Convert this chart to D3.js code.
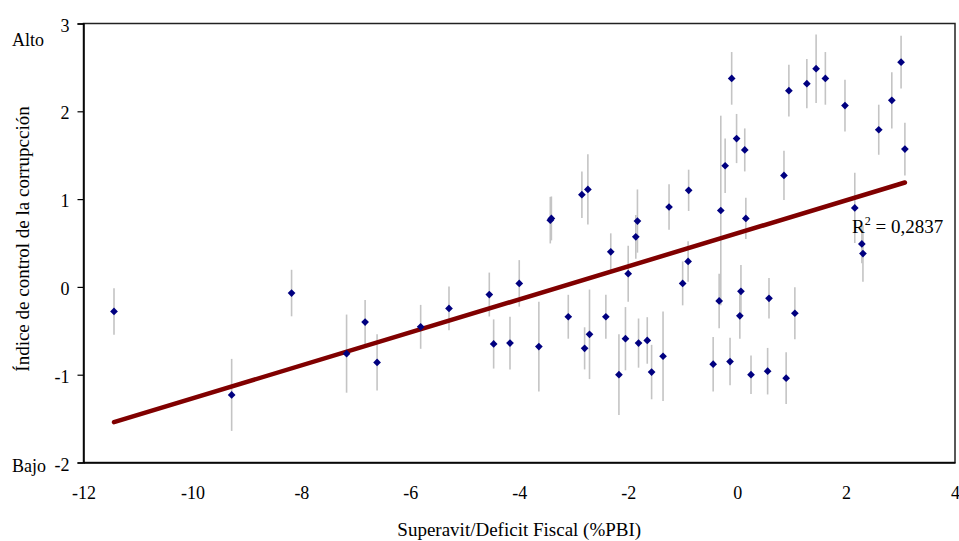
<!DOCTYPE html>
<html>
<head>
<meta charset="utf-8">
<script src="https://cdn.jsdelivr.net/npm/d3@7"></script>
<style>
  body { margin: 0; background: #fff; }
  text { font-family: "Liberation Serif", "Times New Roman", serif; fill: #000; }
</style>
</head>
<body>
<div id="chart"></div>
<script>
// fiscal balance (%PBI) per country
var xValues = [-11.44, -9.28, -8.18, -7.17, -6.83, -6.61, -5.81, -5.29, -4.55, -4.47,
  -4.17, -4.00, -3.64, -3.43, -3.41, -3.10, -2.85, -2.80, -2.74, -2.71,
  -2.41, -2.32, -2.17, -2.05, -2.00, -1.86, -1.83, -1.81, -1.65, -1.57,
  -1.36, -1.25, -1.00, -0.89, -0.90, -0.44, -0.33, -0.30, -0.22, -0.13,
  -0.10, -0.01, 0.07, 0.05, 0.14, 0.16, 0.255, 0.56, 0.585, 0.86,
  0.90, 0.95, 1.06, 1.28, 1.45, 1.62, 1.98, 2.16, 2.29, 2.31,
  2.60, 2.84, 3.01, 3.08];
// control of corruption index
var yValues = [-0.28, -1.23, -0.07, -0.76, -0.40, -0.86, -0.455, -0.245, -0.087, -0.65,
  -0.64, 0.04, -0.68, 0.76, 0.78, -0.34, 1.05, -0.70, 1.11, -0.54,
  -0.34, 0.40, -1.00, -0.59, 0.15, 0.57, 0.75, -0.64, -0.61, -0.97,
  -0.79, 0.91, 0.04, 1.10, 0.29, -0.88, -0.16, 0.87, 1.38, -0.85,
  2.375, 1.69, -0.05, -0.33, 1.56, 0.78, -1.00, -0.96, -0.13, 1.27,
  -1.04, 2.235, -0.30, 2.315, 2.485, 2.375, 2.065, 0.90, 0.49, 0.38,
  1.79, 2.125, 2.56, 1.57];
// error (+/-) on the index
var errValues = [0.265, 0.41, 0.265, 0.445, 0.25, 0.32, 0.25, 0.25, 0.25, 0.28,
  0.30, 0.265, 0.51, 0.265, 0.25, 0.25, 0.265, 0.24, 0.40, 0.51,
  0.25, 0.21, 0.46, 0.36, 0.32, 0.25, 0.36, 0.28, 0.265, 0.31,
  0.51, 0.26, 0.25, 0.235, 0.23, 0.31, 0.31, 1.08, 0.31, 0.27,
  0.30, 0.28, 0.30, 0.26, 0.245, 0.235, 0.22, 0.265, 0.23, 0.28,
  0.295, 0.295, 0.295, 0.28, 0.39, 0.30, 0.295, 0.40, 0.22, 0.32,
  0.285, 0.32, 0.30, 0.30];

var xTicks = [-12, -10, -8, -6, -4, -2, 0, 2, 4];
var yTicks = [-2, -1, 0, 1, 2, 3];

// linear trend
var trendSlope = 0.188,
    trendIntercept = 0.61,
    r2Label = "0,2837";

var width = 959,
    height = 541;

var margin = {top: 23.5, right: 4, bottom: 78.5, left: 83.5};

var svg = d3.select("#chart").append("svg")
    .attr("width", width)
    .attr("height", height);

var x = d3.scaleLinear()
    .domain([-12, 4])
    .range([margin.left, width - margin.right]);

var y = d3.scaleLinear()
    .domain([-2, 3])
    .range([height - margin.bottom, margin.top]);

var data = xValues.map(function(d, i) {
  return {x: d, y: yValues[i], e: errValues[i]};
});

var plain = function(d) { return String(d); };

// plot frame
svg.append("rect")
    .attr("x", x(-12))
    .attr("y", y(3))
    .attr("width", x(4) - x(-12))
    .attr("height", y(-2) - y(3))
    .attr("fill", "none")
    .attr("stroke", "#222")
    .attr("stroke-width", 1.5);

// axes
var yAxis = svg.append("g")
    .attr("transform", "translate(" + x(-12) + ",0)")
    .call(d3.axisLeft(y).tickValues(yTicks).tickSize(6).tickPadding(8).tickFormat(plain));
yAxis.select(".domain").attr("stroke", "#000").attr("stroke-width", 1.5);
yAxis.selectAll(".tick line").attr("stroke", "#000").attr("stroke-width", 1.2);
yAxis.selectAll("text")
    .attr("font-size", 18)
    .attr("font-family", "Liberation Serif")
    .attr("dy", "0.42em");

var xAxis = svg.append("g")
    .attr("transform", "translate(0," + y(-2) + ")")
    .call(d3.axisBottom(x).tickValues(xTicks).tickSize(0).tickPadding(24).tickFormat(plain));
xAxis.select(".domain").attr("stroke", "#000").attr("stroke-width", 1.5);
xAxis.selectAll("text")
    .attr("font-size", 18)
    .attr("font-family", "Liberation Serif");

// error bars
svg.append("g")
  .selectAll("line")
  .data(data)
  .enter().append("line")
    .attr("x1", function(d) { return x(d.x); })
    .attr("x2", function(d) { return x(d.x); })
    .attr("y1", function(d) { return y(d.y - d.e); })
    .attr("y2", function(d) { return y(d.y + d.e); })
    .attr("stroke", "#c4c4c4")
    .attr("stroke-width", 1.6);

// trend line
var xExt = d3.extent(xValues);
svg.append("line")
    .attr("x1", x(xExt[0]))
    .attr("y1", y(trendIntercept + trendSlope * xExt[0]))
    .attr("x2", x(xExt[1]))
    .attr("y2", y(trendIntercept + trendSlope * xExt[1]))
    .attr("stroke", "#800000")
    .attr("stroke-width", 4.5)
    .attr("stroke-linecap", "round");

// points
svg.append("g")
  .selectAll("path")
  .data(data)
  .enter().append("path")
    .attr("transform", function(d) { return "translate(" + x(d.x) + "," + y(d.y) + ")"; })
    .attr("d", d3.symbol().type(d3.symbolDiamond2).size(38))
    .attr("fill", "#000080");

// R2 label
var r2 = svg.append("text")
    .attr("x", 852)
    .attr("y", 233)
    .attr("font-size", 19);
r2.append("tspan").text("R");
r2.append("tspan").attr("font-size", 12).attr("dy", -8).text("2");
r2.append("tspan").attr("dy", 8).text(" = " + r2Label);

// labels
svg.append("text")
    .attr("x", 12)
    .attr("y", 46)
    .attr("font-size", 18)
    .text("Alto");

svg.append("text")
    .attr("x", 12)
    .attr("y", 472)
    .attr("font-size", 18)
    .text("Bajo");

svg.append("text")
    .attr("transform", "translate(29," + (y(0.5) - 4) + ") rotate(-90)")
    .attr("text-anchor", "middle")
    .attr("font-size", 19)
    .text("Índice de control de la corrupcción");

svg.append("text")
    .attr("x", (x(-12) + x(4)) / 2)
    .attr("y", 536)
    .attr("text-anchor", "middle")
    .attr("font-size", 19)
    .text("Superavit/Deficit Fiscal (%PBI)");
</script>
</body>
</html>
